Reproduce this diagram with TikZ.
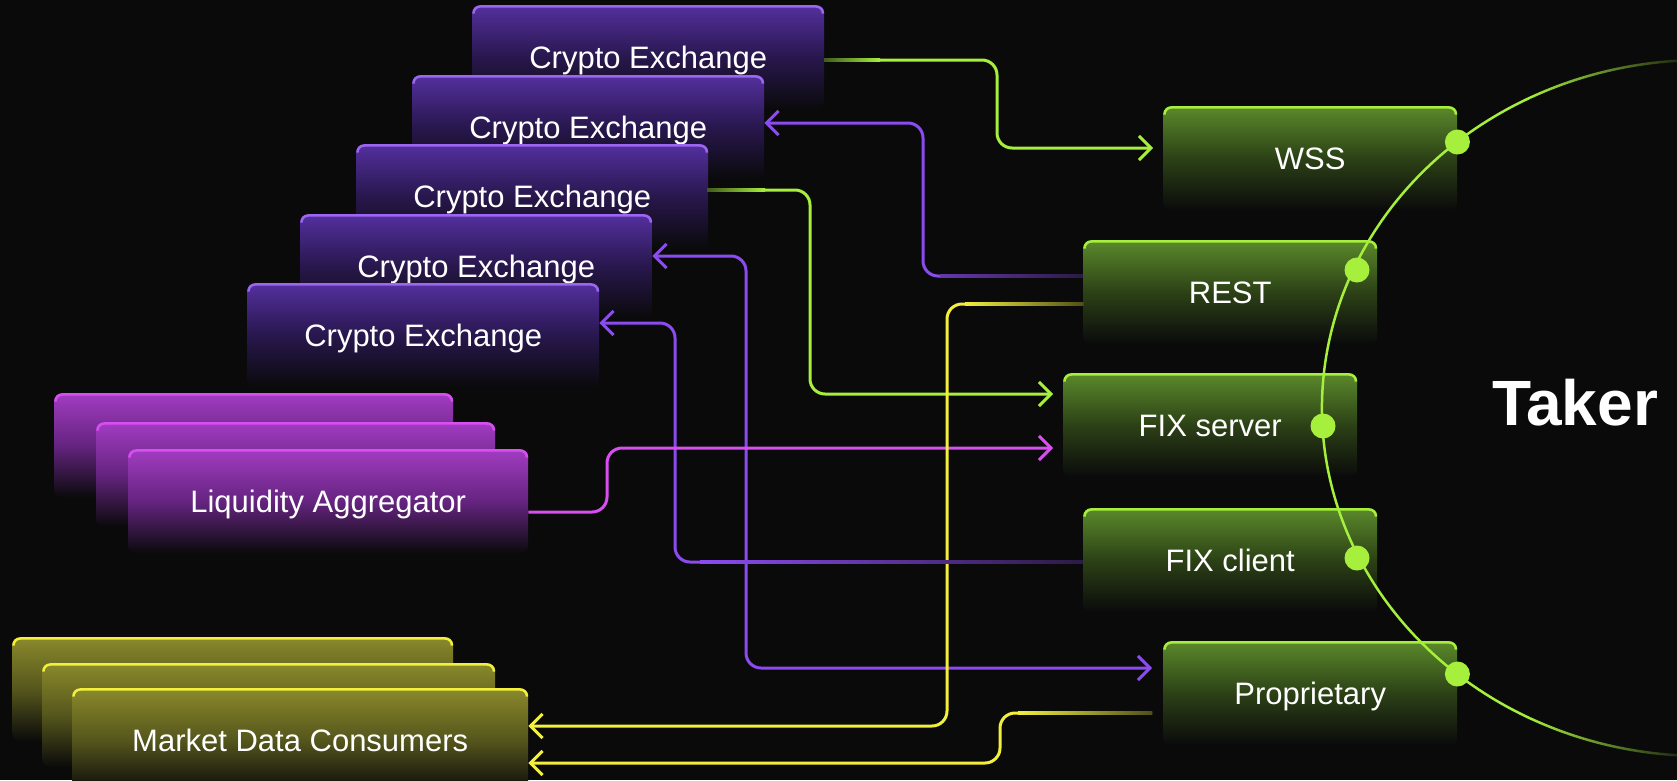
\documentclass[tikz,border=0pt]{standalone}
\usepackage{fontspec}
\setmainfont{Liberation Sans}
\usetikzlibrary{arrows.meta,fadings}

\definecolor{bg}{HTML}{0A0A0B}
\definecolor{cLime}{HTML}{A6EF3C}
\definecolor{cViolet}{HTML}{8C4BF0}
\definecolor{cMagenta}{HTML}{D84EF0}
\definecolor{cYellow}{HTML}{F2F03C}
\definecolor{cxTop}{HTML}{54309F}
\definecolor{cxMid}{HTML}{28174D}
\definecolor{laTop}{HTML}{A23CC2}
\definecolor{laMid}{HTML}{652480}
\definecolor{mdTop}{HTML}{8A8A2C}
\definecolor{mdMid}{HTML}{55561C}
\definecolor{apTop}{HTML}{5B8A2B}
\definecolor{apMid}{HTML}{2C4116}

\tikzfading[name=fadeout, left color=transparent!0, right color=transparent!100]

\tikzset{
  tile/.style n args={3}{rectangle, rounded corners=8pt, anchor=north west,
    minimum height=104pt, inner sep=0pt, text=white,
    font=\fontsize{31}{37}\selectfont, text height=22pt, text depth=0pt,
    top color=#1, bottom color=bg, middle color=#2,
    path picture={\draw[#3, line width=5pt, rounded corners=8pt]
      ([yshift=-6pt]path picture bounding box.north west)
      -- (path picture bounding box.north west)
      -- (path picture bounding box.north east)
      -- ([yshift=-6pt]path picture bounding box.north east);}},
  cex/.style={tile={cxTop}{cxMid}{cViolet!85!white}, minimum width=352pt},
  agg/.style={tile={laTop}{laMid}{cMagenta}, minimum width=400pt},
  mdc/.style={tile={mdTop}{mdMid}{cYellow}},
  api/.style={tile={apTop}{apMid}{cLime}, minimum width=294pt},
  link/.style={line width=3pt, rounded corners=15pt},
  barb/.tip={Straight Barb[length=12pt, width=24pt]},
  arrowhead/.style={-barb},
  ring/.style={cLime, line width=2.5pt}
}

\begin{document}
\begin{tikzpicture}[x=1pt, y=-1pt]
  \fill[bg] (0,0) rectangle (1677,780);
  \useasboundingbox (0,0) rectangle (1677,780);

  % exchanges
  \node[cex] (cx1) at (472,5) {Crypto Exchange};
  \node[cex] (cx2) at (412,75) {Crypto Exchange};
  \node[cex] (cx3) at (356,144) {Crypto Exchange};
  \node[cex] (cx4) at (300,214) {Crypto Exchange};
  \node[cex] (cx5) at (247,283) {Crypto Exchange};

  \node[agg, minimum width=399pt] (la1) at (54,393) {};
  \node[agg, minimum width=399pt] (la2) at (96,422) {};
  \node[agg] (la3) at (128,449) {Liquidity Aggregator};

  \node[mdc, minimum width=441pt] (md1) at (12,637) {};
  \node[mdc, minimum width=453pt] (md2) at (42,663) {};
  \node[mdc, minimum width=456pt] (md3) at (72,688) {Market Data Consumers};

  % taker side
  \node[api] (wss) at (1163,106) {WSS};
  \node[api] (rest) at (1083,240) {REST};
  \node[api] (fixs) at (1063,373) {FIX server};
  \node[api] (fixc) at (1083,508) {FIX client};
  \node[api] (prop) at (1163,641) {Proprietary};

  \draw[ring] (1702,408) ++(116.9:380pt and 348pt)
    arc[start angle=116.9, end angle=243.1, x radius=380pt, y radius=348pt];
  \draw[ring, path fading=fadeout] (1702,408) ++(116.9:380pt and 348pt)
    arc[start angle=116.9, end angle=90, x radius=380pt, y radius=348pt];
  \draw[ring, path fading=fadeout] (1702,408) ++(243.1:380pt and 348pt)
    arc[start angle=243.1, end angle=270, x radius=380pt, y radius=348pt];
  \fill[cLime] (wss.east |- 0,142) circle[radius=12.5pt];
  \fill[cLime] (1357,270) circle[radius=12.5pt];
  \fill[cLime] (1323,426) circle[radius=12.5pt];
  \fill[cLime] (1357,558) circle[radius=12.5pt];
  \fill[cLime] (prop.east |- 0,674) circle[radius=12.5pt];
  \node[text=white, anchor=base, font=\bfseries\fontsize{64}{70}\selectfont]
    (taker) at (1575,425) {Taker};

  % connectors
  \draw[link, cLime, arrowhead, shorten >=10pt] (cx1.east |- 0,60) -- (997,60) -- (997,148) -- (wss.west |- 0,148);
  \draw[link, cViolet, arrowhead] (rest.west |- 0,276) -- (923,276) -- (923,123) -- (cx2.east |- 0,123);
  \draw[link, cLime, arrowhead, shorten >=10pt] (cx3.east |- 0,190) -- (810,190) -- (810,394) -- (fixs.west |- 0,394);
  \draw[link, cViolet, barb-barb, shorten >=11pt] (cx4.east |- 0,256) -- (746,256) -- (746,668) -- (prop.west |- 0,668);
  \draw[link, cViolet, arrowhead] (fixc.west |- 0,562) -- (675,562) -- (675,323) -- (cx5.east |- 0,323);
  \draw[link, cMagenta, arrowhead, shorten >=10pt] (la3.east |- 0,512) -- (607,512) -- (607,448) -- (fixs.west |- 0,448);
  \draw[link, cYellow, arrowhead] (rest.west |- 0,304) -- (947,304) -- (947,726) -- (md3.east |- 0,726);
  \draw[link, cYellow, arrowhead, shorten <=11pt] (prop.west |- 0,713) -- (1000,713) -- (1000,763) -- (md3.east |- 0,763);

  % faded ends
  \shade[left color=cLime!35!bg, right color=cLime] (824,58.5) rectangle (880,61.5);
  \shade[left color=cLime!35!bg, right color=cLime] (707,188.5) rectangle (765,191.5);
  \shade[left color=cViolet!70!bg, right color=cViolet!25!bg] (940,274.5) rectangle (1083,277.5);
  \shade[left color=cViolet, right color=cViolet!25!bg] (700,560.5) rectangle (1083,563.5);
  \shade[left color=cYellow, right color=cYellow!30!bg] (965,302.5) rectangle (1083,305.5);
  \shade[left color=cYellow, right color=cYellow!30!bg] (1018,711.5) rectangle (1152,714.5);
\end{tikzpicture}
\end{document}
